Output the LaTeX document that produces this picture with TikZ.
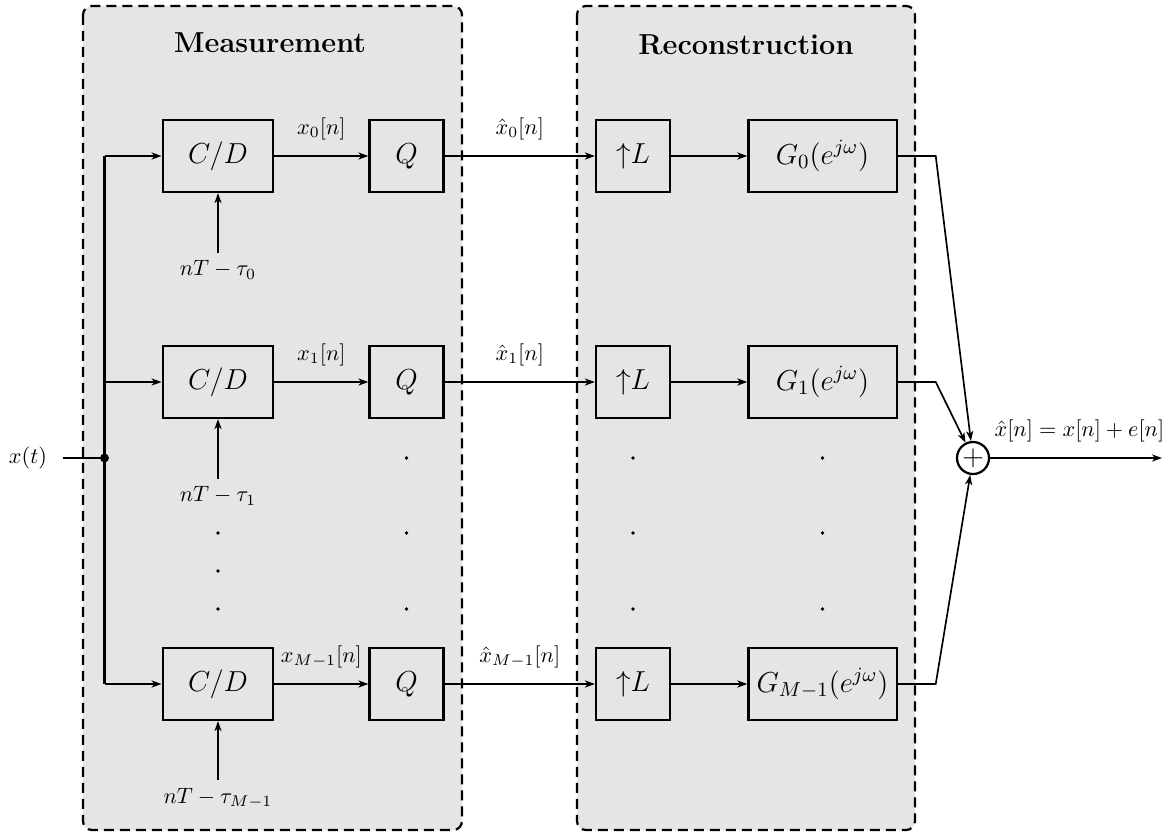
\documentclass[tikz,border=0pt]{standalone}
\usepackage{fix-cm}
\usetikzlibrary{arrows.meta,positioning}

\tikzset{every picture/.style={line width=0.75pt}}
\tikzset{
  blk/.style={draw, line width=1pt, inner sep=0pt, minimum height=32.4pt, font=\fontsize{13}{15}\selectfont},
  sig/.style={-{Stealth[length=4.5pt,width=3.2pt,inset=1.3pt]}},
  panel/.style={draw, line width=1pt, dash pattern=on 4.5pt off 2.7pt, fill=gray!20, rounded corners=4pt},
  sumc/.style={circle, draw, line width=1pt, inner sep=0pt, minimum size=14.4pt, font=\fontsize{13}{15}\selectfont},
  lbl/.style={above, inner xsep=0pt, inner ysep=6.8pt},
  ttl/.style={font=\fontsize{13}{15}\selectfont\bfseries}
}

\begin{document}
\begin{tikzpicture}[x=0.45pt,y=0.45pt,yscale=-1,xscale=1]
\useasboundingbox (0,0) rectangle (1170,832);

%Panels
\draw[panel] (83,6) rectangle (462,830);
\draw[panel] (577,6) rectangle (915,830);
\node[ttl] (meas) at (270,43) {Measurement};
\node[ttl] (recon) at (746,45) {Reconstruction};

%Input and adder
\node (xt) at (28,458) {$x(t)$};
\coordinate (xin) at (63,458);
\node[circle, fill, inner sep=0pt, minimum size=4pt] (split) at (104.5,458) {};
\node[sumc] (sum) at (973,458) {$+$};
\coordinate (yout) at (1162,458);

%Branches
\foreach \i/\y/\nm in {0/156/0,1/382/1,2/684/M-1}{
  \node[blk, minimum width=49.8pt] (cd\i) at (218,\y) {$C/D$};
  \node[blk, minimum width=33.3pt] (q\i) at (406.5,\y) {$Q$};
  \node[blk, minimum width=33.3pt] (up\i) at (633,\y) {${\uparrow}L$};
  \node[blk, minimum width=66.7pt] (g\i) at (822.5,\y) {$G_{\nm}(e^{j\omega})$};
  \node (t\i) at (218,\y+114) {$nT-\tau_{\nm}$};
  \draw[sig] (t\i) -- (cd\i);
  \draw[sig] (cd\i) -- node[lbl] {$x_{\nm}[n]$} (q\i);
  \draw[sig] (q\i) -- node[lbl] {$\hat{x}_{\nm}[n]$} (up\i);
  \draw[sig] (up\i) -- (g\i);
  \draw[sig] (g\i.east) -- ++(38,0) -- (sum);
  \draw[sig] (split |- cd\i.west) -- (cd\i.west);
}

%Connectors
\draw[line width=1pt] (xin) -- (split.center);
\draw[line width=1pt] (split |- cd0.west) -- (split |- cd2.west);
\draw[sig] (sum) -- node[lbl, xshift=1.5pt] {$\hat{x}[n]=x[n]+e[n]$} (yout);

%Dots
\foreach \y in {533,571,609} \fill (218,\y) circle (0.8pt);
\foreach \x in {406.5,633,822.5}
  \foreach \y in {458,533,609} \fill (\x,\y) circle (0.8pt);
\end{tikzpicture}
\end{document}
